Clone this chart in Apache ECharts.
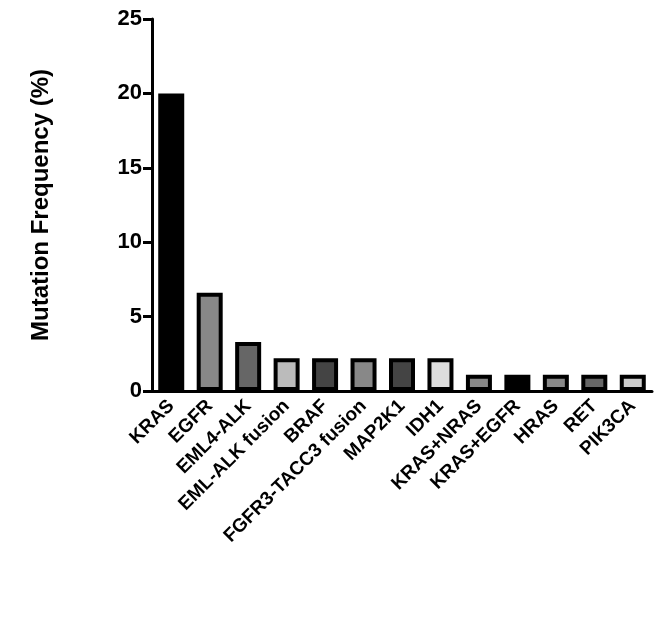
<!DOCTYPE html><html><head><script src="https://cdn.jsdelivr.net/npm/echarts@6/dist/echarts.min.js"></script></head><body style="margin:0"><div id="c" style="width:669px;height:639px"></div><script>
const categories=["KRAS","EGFR","EML4-ALK","EML-ALK fusion","BRAF","FGFR3-TACC3 fusion","MAP2K1","IDH1","KRAS+NRAS","KRAS+EGFR","HRAS","RET","PIK3CA"];
const values=[20,6.6,3.3,2.2,2.2,2.2,2.2,2.2,1.1,1.1,1.1,1.1,1.1];
const fills=["#000","#888","#666","#bbb","#444","#888","#444","#ddd","#888","#000","#888","#666","#ccc"];
const yTicks=[0,5,10,15,20,25];
const ch=echarts.init(document.getElementById('c'));
ch.setOption({animation:false,
grid:{left:152,right:17,top:19,bottom:248},
xAxis:{type:'category',data:categories,axisLine:{lineStyle:{color:'#000',width:3}},axisTick:{alignWithLabel:true,length:8,lineStyle:{color:'#000',width:3}},
axisLabel:{rotate:45,fontWeight:'bold',fontSize:19,color:'#000',fontFamily:'Liberation Sans',margin:12,interval:0}},
yAxis:{type:'value',min:0,max:25,interval:5,splitLine:{show:false},axisLine:{show:true,lineStyle:{color:'#000',width:3}},axisTick:{show:true,length:9,lineStyle:{color:'#000',width:3}},
axisLabel:{fontWeight:'bold',fontSize:22,color:'#000',fontFamily:'Liberation Sans',margin:10,formatter:v=>yTicks.includes(v)?String(v):''},
name:'Mutation Frequency (%)',nameLocation:'middle',nameGap:90,nameTextStyle:{fontWeight:'bold',fontSize:24,color:'#000',fontFamily:'Liberation Sans'}},
series:[{type:'bar',barWidth:26,data:values.map((v,i)=>({value:v,itemStyle:{color:fills[i],borderColor:'#000',borderWidth:4}}))}]});
</script></body></html>
